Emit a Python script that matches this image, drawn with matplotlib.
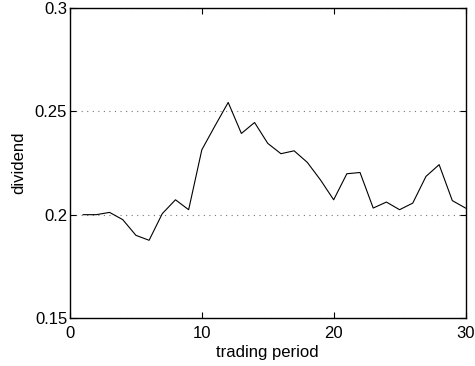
import matplotlib
matplotlib.use("Agg")
import matplotlib.pyplot as plt

plt.rcParams['font.family'] = ['Liberation Sans', 'DejaVu Sans']

period = list(range(1, 31))
dividend = [0.2000, 0.2000, 0.2011, 0.1976, 0.1900, 0.1876, 0.2005, 0.2072, 0.2024, 0.2314,
            0.2430, 0.2543, 0.2393, 0.2446, 0.2345, 0.2295, 0.2309, 0.2253, 0.2168, 0.2072,
            0.2198, 0.2204, 0.2032, 0.2061, 0.2024, 0.2056, 0.2185, 0.2242, 0.2068, 0.2032]
xticks = [0, 10, 20, 30]
yticks = [0.15, 0.2, 0.25, 0.3]
yticklabels = ['0.15', '0.2', '0.25', '0.3']

fig = plt.figure(figsize=(4.75, 3.66), dpi=100)
ax = fig.add_axes([70 / 475, 1 - 318 / 366, (465.5 - 70) / 475, (318 - 8) / 366])

ax.plot(period, dividend, color='black', linewidth=0.8)

ax.set_xlim(0, 30)
ax.set_ylim(0.15, 0.3)
ax.set_xticks(xticks)
ax.set_yticks(yticks)
ax.set_yticklabels(yticklabels)
ax.yaxis.grid(True, linestyle=(0, (1, 4)), color='#777777', linewidth=0.8)
ax.set_axisbelow(True)

ax.tick_params(direction='in', length=4, width=0.8, top=True, right=True,
               labelsize=12, colors='black')
ax.tick_params(axis='x', pad=6)
ax.tick_params(axis='y', pad=2)
for s in ax.spines.values():
    s.set_linewidth(1.0)

ax.set_xlabel('trading period', fontsize=12, labelpad=3)
ax.set_ylabel('dividend', fontsize=12, labelpad=6)

fig.savefig('out.png', dpi=100)
